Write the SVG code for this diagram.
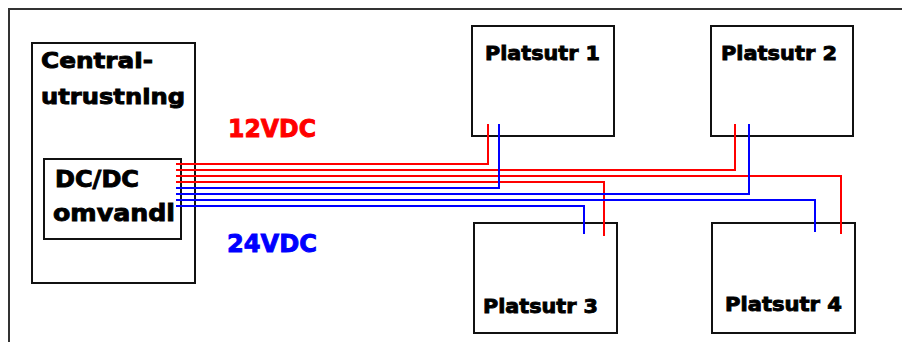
<svg xmlns="http://www.w3.org/2000/svg" width="902" height="342" viewBox="0 0 902 342">
<style>
.box{fill:#fff;stroke:#111;stroke-width:2}
.t{font-family:"DejaVu Sans","Liberation Sans",Arial,sans-serif;font-weight:bold;fill:#000;stroke:#000;stroke-width:0.9}
.red{fill:#ff0000;stroke:#ff0000}
.blue{fill:#0000ff;stroke:#0000ff}
.r{fill:none;stroke:#ff0000;stroke-width:2}
.b{fill:none;stroke:#0000ff;stroke-width:2}
</style>
<rect width="902" height="342" fill="#fff"/>
<path d="M9,342 V9 H902" fill="none" stroke="#333" stroke-width="2"/>
<g id="central">
<rect class="box" x="32" y="43" width="163" height="240"/>
<text class="t" x="41" y="68" font-size="22" textLength="112" lengthAdjust="spacingAndGlyphs">Central-</text>
<text class="t" x="41" y="104" font-size="22" textLength="144" lengthAdjust="spacingAndGlyphs">utrustning</text>
</g>
<g id="dcdc">
<rect class="box" x="44" y="159" width="137" height="80"/>
<text class="t" x="55" y="187" font-size="23" textLength="84" lengthAdjust="spacingAndGlyphs">DC/DC</text>
<text class="t" x="53" y="221" font-size="23" textLength="122" lengthAdjust="spacingAndGlyphs">omvandl</text>
</g>
<g id="p1">
<rect class="box" x="472" y="26" width="142" height="110"/>
<text class="t" x="485" y="60" font-size="20" textLength="115" lengthAdjust="spacingAndGlyphs">Platsutr 1</text>
</g>
<g id="p2">
<rect class="box" x="711" y="26" width="142" height="110"/>
<text class="t" x="721" y="60" font-size="20" textLength="116" lengthAdjust="spacingAndGlyphs">Platsutr 2</text>
</g>
<g id="p3">
<rect class="box" x="474" y="223" width="143" height="110"/>
<text class="t" x="483" y="313" font-size="20" textLength="115" lengthAdjust="spacingAndGlyphs">Platsutr 3</text>
</g>
<g id="p4">
<rect class="box" x="712" y="223" width="143" height="110"/>
<text class="t" x="725" y="311" font-size="20" textLength="117" lengthAdjust="spacingAndGlyphs">Platsutr 4</text>
</g>
<g id="labels">
<text class="t red" x="228" y="137" font-size="24" textLength="88" lengthAdjust="spacingAndGlyphs">12VDC</text>
<text class="t blue" x="227" y="252" font-size="24" textLength="90" lengthAdjust="spacingAndGlyphs">24VDC</text>
</g>
<g id="connectors">
<path class="r" d="M176,164 H488 V124"/>
<path class="r" d="M176,170 H735 V124"/>
<path class="r" d="M176,176 H841 V234"/>
<path class="r" d="M176,182 H604 V236"/>
<path class="b" d="M176,188 H499 V124"/>
<path class="b" d="M176,194 H749 V124"/>
<path class="b" d="M176,200 H815 V232"/>
<path class="b" d="M176,206 H584 V234"/>
</g>
</svg>
